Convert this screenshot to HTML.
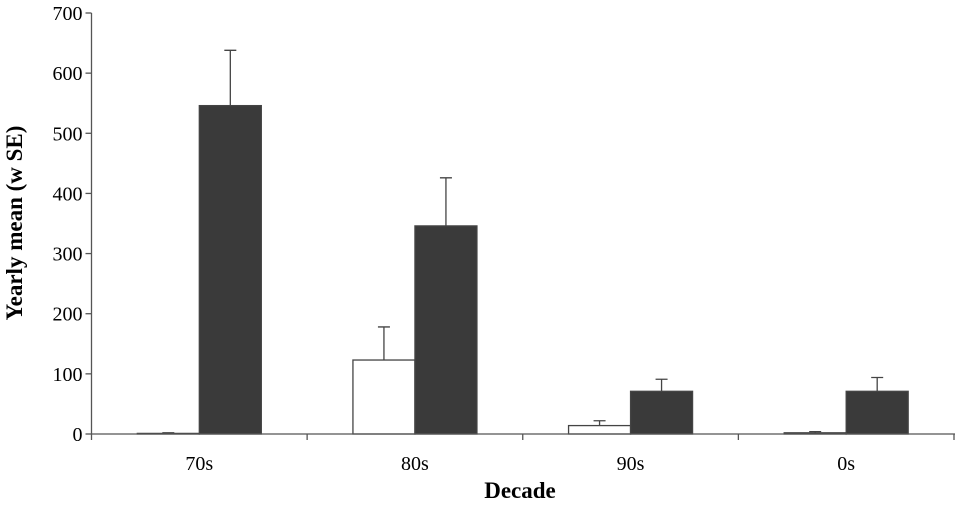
<!DOCTYPE html>
<html><head><meta charset="utf-8"><style>
body{margin:0;background:#fff}
</style></head><body>
<svg width="955" height="501" font-family="'Liberation Serif', serif">
<g id="g"></g>
</svg>
<script>
const categories=["70s","80s","90s","0s"];
const whiteVals=[1,123,14,2];
const whiteErr=[1,55,8,2];
const darkVals=[546,346,71,71];
const darkErr=[92,80,20,23];
const yTicks=[0,100,200,300,400,500,600,700];
const NS="http://www.w3.org/2000/svg";
const g=document.getElementById("g");
const x0=91.5,x1=954,y0=434,yTop=13,yMax=700;
const catW=(x1-x0)/categories.length,barW=62,pad=(catW-2*barW)/2;
const y=v=>y0-(v/yMax)*(y0-yTop);
const FF="Liberation Serif, serif";
function mk(t,a,txt){const e=document.createElementNS(NS,t);for(const k in a)e.setAttribute(k,a[k]);if(txt!=null){e.textContent=txt;e.setAttribute("font-family",FF);e.style.fontFamily='"Liberation Serif", serif';}g.appendChild(e);return e;}
yTicks.forEach(v=>{
 const l=mk("line",{x1:x0-6,x2:x0,y1:y(v),y2:y(v),stroke:"#555","stroke-width":1.3});
 
 
 const t=mk("text",{x:x0-9,y:y(v)+7,"text-anchor":"end","font-size":20},v);
 
 
});
categories.forEach((c,i)=>{
 const cx=x0+i*catW;
 const bars=[[whiteVals[i],whiteErr[i],"#fff"],[darkVals[i],darkErr[i],"#3a3a3a"]];
 bars.forEach((b,j)=>{
  const bx=cx+pad+j*barW;
  const r=mk("rect",{x:bx,y:y(b[0]),width:barW,height:y0-y(b[0]),fill:b[2],stroke:"#444","stroke-width":1.3});
  
  
  const mx=bx+barW/2;
  const e=mk("path",{d:`M${mx} ${y(b[0])}V${y(b[0]+b[1])}M${mx-6} ${y(b[0]+b[1])}H${mx+6}`,stroke:"#444","stroke-width":1.3,fill:"none"});
  
  
 });
 const t=mk("text",{x:cx+catW/2,y:y0+36,"text-anchor":"middle","font-size":20},c);
 
 
});
for(let i=0;i<=categories.length;i++){
 const tx=x0+i*catW;
 const l=mk("line",{x1:tx,x2:tx,y1:y0,y2:y0+6,stroke:"#555","stroke-width":1.3});
 
 
}
const ax=mk("line",{x1:x0,x2:x0,y1:yTop,y2:y0,stroke:"#555","stroke-width":1.3});


const xa=mk("line",{x1:x0,x2:x1+1,y1:y0,y2:y0,stroke:"#555","stroke-width":1.3});


const xt=mk("text",{x:520,y:498,"text-anchor":"middle","font-size":23,"font-weight":"bold"},"Decade");


const yt=mk("text",{x:0,y:0,"text-anchor":"middle","font-size":23,"font-weight":"bold",transform:"translate(22,223) rotate(-90)"},"Yearly mean (w SE)");


</script>
</body></html>
